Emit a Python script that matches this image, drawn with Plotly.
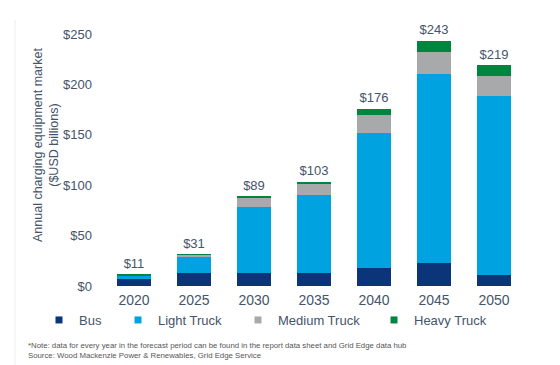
import plotly.graph_objects as go

years = ["2020", "2025", "2030", "2035", "2040", "2045", "2050"]
bus = [6.5, 12.7, 13, 13, 18, 22.5, 10.5]
light_truck = [4, 16, 65, 77, 134, 188, 178]
medium_truck = [0.3, 2.3, 10, 11, 18, 22, 20]
heavy_truck = [0.2, 0.3, 1, 2, 6, 10.5, 10.5]
totals = [11, 31, 89, 103, 176, 243, 219]
total_labels = ["$11", "$31", "$89", "$103", "$176", "$243", "$219"]
y_ticks = [0, 50, 100, 150, 200, 250]
y_tick_labels = ["$0", "$50", "$100", "$150", "$200", "$250"]
series_names = ["Bus", "Light Truck", "Medium Truck", "Heavy Truck"]

FONT = "Liberation Sans, Arial, sans-serif"
TXT = "#44546a"
COLORS = ["#0b3479", "#00a3e0", "#a8a9ab", "#00853e"]

# page has an 8px body margin; work in page pixel coordinates
OFF = 8
FW, FH = 560 - OFF, 365 - OFF
PL, PR, PT, PB = 104, 524, 34, 286  # plot area in page px
L, R, T, B = PL - OFF, FW - (PR - OFF), PT - OFF, FH - (PB - OFF)
W = PR - PL
H = PB - PT


def px(x):
    return (x - PL) / W


def py(y):
    return (PB - y) / H


fig = go.Figure()
values = [bus, light_truck, medium_truck, heavy_truck]
for name, vals, col in zip(series_names, values, COLORS):
    fig.add_trace(go.Bar(x=years, y=vals, name=name, showlegend=False,
                         marker=dict(color=col, line=dict(width=0))))

fig.add_trace(go.Scatter(
    x=years, y=totals, mode="markers+text", text=total_labels, textposition="top center",
    marker=dict(size=4, color="rgba(0,0,0,0)"),
    textfont=dict(family=FONT, size=13, color=TXT), showlegend=False, cliponaxis=False,
    hoverinfo="skip"))

legend_text_x = [78, 157, 277, 413]
legend_ids = ["legend", "legend2", "legend3", "legend4"]
for name, col, lid in zip(series_names, COLORS, legend_ids):
    fig.add_trace(go.Scatter(x=[None], y=[None], mode="markers", name=name, legend=lid,
                             marker=dict(symbol="square", size=7, color=col), showlegend=True))

legend_common = dict(orientation="h", xanchor="left", y=py(320), yanchor="middle",
                     font=dict(family=FONT, size=13, color=TXT), itemwidth=30,
                     bgcolor="rgba(0,0,0,0)", borderwidth=0)

layout_legends = {}
for lid, tx in zip(legend_ids, legend_text_x):
    layout_legends[lid] = dict(x=px(tx - 39), **legend_common)

fig.update_layout(
    width=FW, height=FH,
    margin=dict(l=L, r=R, t=T, b=B, autoexpand=False),
    paper_bgcolor="white", plot_bgcolor="white",
    barmode="stack", bargap=0.42,
    font=dict(family=FONT, color=TXT),
    showlegend=True,
    xaxis=dict(showgrid=False, showline=False, ticks="", tickfont=dict(size=14, color=TXT),
               automargin=False, ticklabelstandoff=4),
    yaxis=dict(range=[0, 250], tickvals=y_ticks, ticktext=y_tick_labels, showgrid=False,
               zeroline=False, showline=False, ticks="", ticklabelstandoff=11,
               tickfont=dict(size=13, color=TXT), automargin=False),
    **layout_legends,
)

fig.add_annotation(text="Annual charging equipment market<br>($USD billions)",
                   xref="paper", yref="paper", x=px(46), y=py(145), xanchor="center", yanchor="middle",
                   textangle=-90, showarrow=False, font=dict(family=FONT, size=12.5, color=TXT))

fig.add_annotation(text="*Note: data for every year in the forecast period can be found in the report data sheet and Grid Edge data hub<br>Source: Wood Mackenzie Power & Renewables, Grid Edge Service",
                   xref="paper", yref="paper", x=px(26), y=py(339), xanchor="left", yanchor="top",
                   align="left", showarrow=False, font=dict(family=FONT, size=7.8, color="#555555"))

fig.add_shape(type="line", xref="paper", yref="paper", x0=px(15), x1=px(15), y0=py(366), y1=py(20),
              line=dict(color="#eeeeee", width=1))

fig.write_html("out.html")
